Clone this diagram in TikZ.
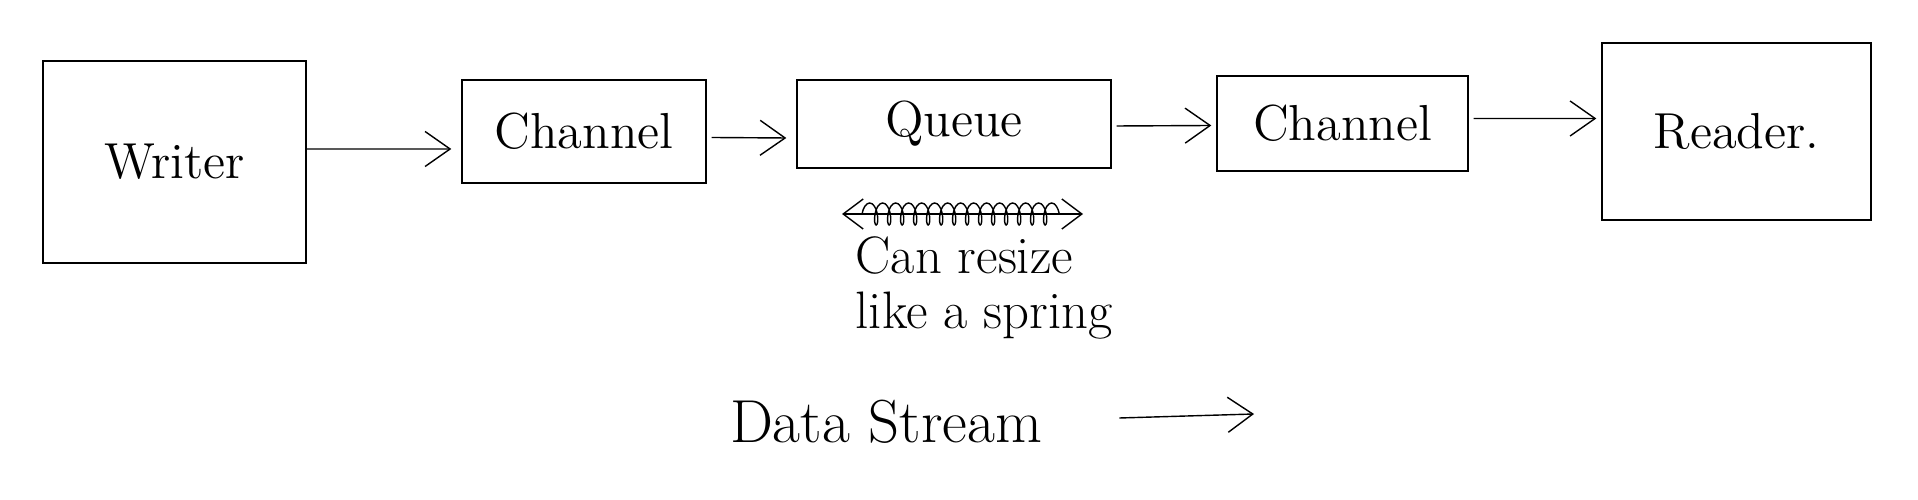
\documentclass[tikz,border=0pt]{standalone}
\usetikzlibrary{arrows.meta,decorations.pathmorphing}
\begin{document}
\begin{tikzpicture}[box_style/.style={rectangle,draw=black,thin,font=\Large},
           edge_style/.style={draw=black,thin,-{Straight Barb[length=2.5mm,width=3.5mm]}},
           text_style/.style={font=\Large}]
            \useasboundingbox (0,0) rectangle (19.18,5);
            \node[box_style,minimum width=2.63cm,minimum height=2.02cm] (writer) at (1.745, 3.38)  {Writer};
            \node[box_style,minimum width=2.44cm,minimum height=1.03cm] (chan1)  at (5.84, 3.685)  {Channel};
            \node[box_style,minimum width=3.14cm,minimum height=0.88cm] (queue)  at (9.54, 3.76)   {Queue};
            \node[box_style,minimum width=2.51cm,minimum height=0.95cm] (chan2)  at (13.425, 3.765) {Channel};
            \node[box_style,minimum width=2.69cm,minimum height=1.77cm] (reader) at (17.365, 3.685) {Reader.};
            \draw[edge_style]  ([yshift=1.3mm]writer.east) -- ([xshift=-1mm,yshift=-1.75mm]chan1.west);
            \draw[edge_style]  ([xshift=0.5mm,yshift=-0.6mm]chan1.east) -- ([xshift=-1mm,yshift=-1.4mm]queue.west);
            \draw[edge_style]  ([xshift=0.5mm,yshift=-0.2mm]queue.east) -- ([xshift=-0.5mm,yshift=-0.2mm]chan2.west);
            \draw[edge_style]  ([xshift=0.5mm,yshift=0.5mm]chan2.east) -- ([xshift=-0.5mm,yshift=1.3mm]reader.west);
            % spring below the queue
            \coordinate (s0) at (8.42, 2.86);
            \coordinate (s1) at (10.83, 2.86);
            \draw[thin,{Straight Barb[length=2mm,width=3mm]}-{Straight Barb[length=2mm,width=3mm]}] (s0) -- (s1);
            \draw[thin,decorate,decoration={coil,aspect=0.4,segment length=1.3mm,amplitude=1.1mm}] ([xshift=2mm]s0) -- ([xshift=-2mm]s1);
            \node[text_style,align=left,anchor=north west,inner sep=0pt,
                  font=\fontsize{15}{15.5}\selectfont] (resize) at (8.55, 2.64) {Can resize\\like a spring};
            % direction of the data
            \node[text_style,font=\LARGE] (stream) at (8.86, 0.78) {Data Stream};
            \coordinate (flow) at (12.54, 0.86);
            \draw[edge_style]  ([xshift=6.5mm,yshift=0.4mm]stream.east) -- (flow);
        \end{tikzpicture}
\end{document}
